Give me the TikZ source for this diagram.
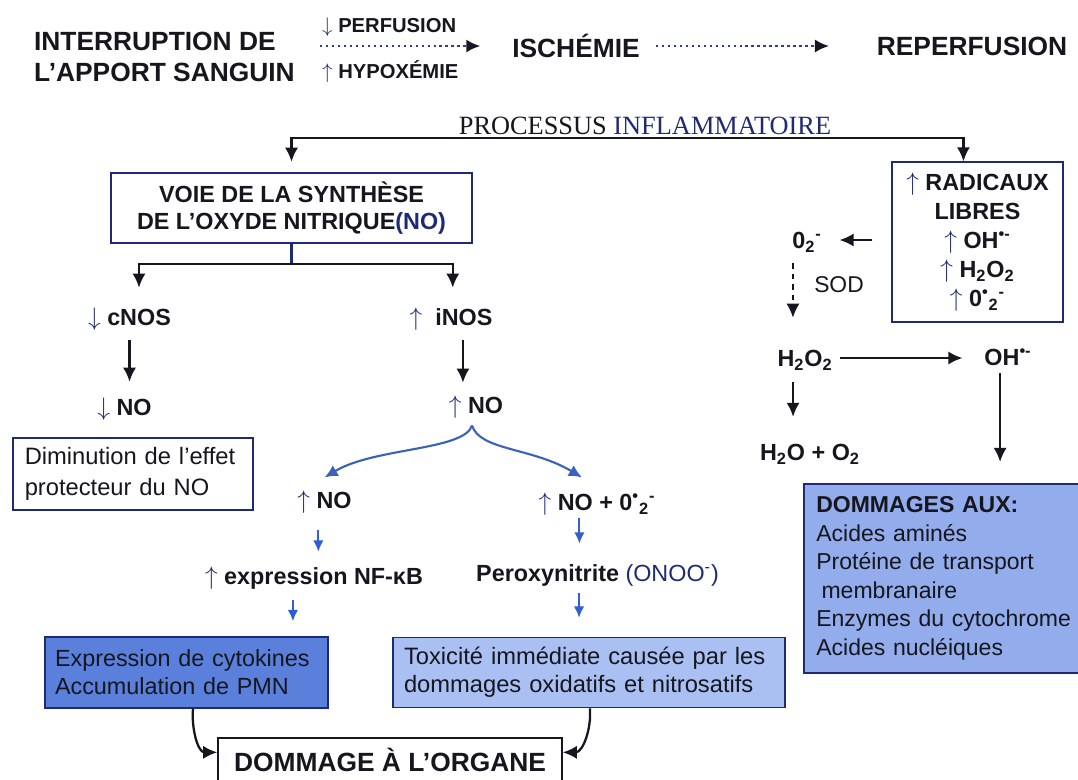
\documentclass[tikz,border=0pt]{standalone}
\usepackage{fontspec}
\setmainfont{Liberation Sans}
\newfontfamily\procfont{Liberation Serif}
\usetikzlibrary{calc,arrows.meta}
\definecolor{ink}{HTML}{16161E}
\definecolor{navy}{HTML}{1F2A74}
\definecolor{curveblue}{HTML}{3B62BA}
\definecolor{tipblue}{HTML}{2F5FD2}
\definecolor{dotblue}{HTML}{2A3AA8}
\definecolor{cytoblue}{HTML}{5A80DC}
\definecolor{toxblue}{HTML}{AAC0F3}
\definecolor{dmgblue}{HTML}{93ACEC}
\newcommand\uparr{\textcolor{navy}{$\uparrow$}}
\newcommand\dnarr{\textcolor{navy}{$\downarrow$}}

\begin{document}
\begin{tikzpicture}[x=0.02cm,y=-0.02cm,
    title node/.style={font=\fontsize{15}{17.6}\selectfont\bfseries,text=ink,inner sep=1pt},
    small node/.style={font=\fontsize{11.5}{13}\selectfont\bfseries,text=ink,inner sep=1pt},
    chem node/.style={font=\fontsize{13.3}{16}\selectfont\bfseries,text=ink,inner sep=1pt,text height=9.6pt,text depth=0pt},
    line box/.style={draw=navy,line width=0.8pt,fill=white,text=ink,align=center,font=\fontsize{13.3}{15.4}\selectfont\bfseries},
    left box/.style={draw=navy,line width=0.9pt,text=ink,align=left,font=\fontsize{13.5}{16}\selectfont},
    dark arrow/.style={-{Latex[length=8pt,width=7.5pt]},line width=1.3pt,draw=ink},
    blue arrow/.style={-{Latex[length=6.5pt,width=6pt]},line width=1.1pt,draw=tipblue},
    curve arrow/.style={-{Latex[length=7.5pt,width=7pt]},line width=1.2pt,draw=curveblue},
    dot arrow/.style={-{Latex[length=8pt,width=7.5pt,color=ink]},dotted,line width=1.4pt,draw=dotblue}]

  \useasboundingbox (0,0) rectangle (1078,779);

  % ligne du haut
  \node[title node,align=left,anchor=west] (interrupt) at (32,57) {INTERRUPTION DE\\L’APPORT SANGUIN};
  \node[small node,anchor=west] (perf) at (320,27) {\dnarr\ PERFUSION};
  \node[small node,anchor=west] (hypo) at (320,72) {\uparr\ HYPOXÉMIE};
  \node[title node] (isch) at (576,46) {ISCHÉMIE};
  \node[title node] (repf) at (972,46) {REPERFUSION};
  \draw[dot arrow,shorten >=17pt] (isch.west -| perf.west) -- (isch.west);
  \draw[dot arrow,shorten <=8pt,shorten >=26pt] (isch) -- (repf);

  % processus inflammatoire
  \node[anchor=base,inner sep=2pt,font=\procfont\fontsize{15}{18}\selectfont,text=ink] (proc) at (645,134) {PROCESSUS \textcolor{navy}{INFLAMMATOIRE}};
  \node[line box,minimum width=7.22cm,minimum height=1.4cm] (voie) at (291.5,208) {VOIE DE LA SYNTHÈSE\\DE L’OXYDE NITRIQUE\textcolor{navy}{(NO)}};
  \node[line box,minimum width=3.42cm,minimum height=3.2cm,font=\fontsize{13.3}{16.5}\selectfont\bfseries] (radic) at (977.5,242)
    {\uparr\ RADICAUX\\LIBRES\\\uparr\ OH\textsuperscript{•-}\\\uparr\ H\textsubscript{2}O\textsubscript{2}\\\uparr\ 0\textsuperscript{•}\textsubscript{2}\textsuperscript{-}};
  \draw[dark arrow,shorten >=6pt] (proc.south) -| (voie.north);
  \draw[dark arrow] (proc.south) -| ([xshift=-8pt]radic.north);

  % voie du NO
  \node[chem node] (cnos) at (129.5,317) {\dnarr\ cNOS};
  \node[chem node] (inos) at (451,317) {\uparr\ \ iNOS};
  \node[chem node] (no1) at (124.5,407) {\dnarr\ NO};
  \node[chem node] (no2) at (476,405) {\uparr\ NO};
  \coordinate (vsplit) at ($(voie.south)+(0,20)$);
  \draw[line width=1.3pt,draw=navy] (voie.south) -- (vsplit);
  \draw[dark arrow,shorten >=10.7pt] (vsplit) -| ([xshift=5.4pt]cnos.north);
  \draw[dark arrow,shorten >=10.7pt] (vsplit) -| ([xshift=1pt]inos.north);
  \draw[dark arrow,shorten <=7.3pt,shorten >=8.4pt] (cnos.south) -- (cnos.south |- no1.north);
  \draw[dark arrow,shorten <=7.3pt,shorten >=6.7pt] ([xshift=6.8pt]inos.south) -- ([xshift=6.8pt]inos.south |- no2.north);

  \node[left box,fill=white,anchor=west,text width=4.32cm,inner xsep=0.24cm,minimum height=1.44cm,font=\fontsize{13.5}{17.5}\selectfont] (dimin) at (12,474)
    {Diminution de l’effet\\protecteur du NO};

  % fourche
  \node[chem node] (no3) at (324.5,500) {\uparr\ NO};
  \node[chem node] (no4) at (597,502) {\uparr\ NO + 0\textsuperscript{•}\textsubscript{2}\textsuperscript{-}};
  \coordinate (fork) at ($(no2.south)+(-4,10)$);
  \coordinate (tipl) at ($(no3.north)+(0,-12)$);
  \coordinate (tipr) at ($(no4.north)+(-15,-14)$);
  \draw[curve arrow] (fork) .. controls ($(fork)+(-8,25)$) and ($(tipl)+(50,-30)$) .. (tipl);
  \draw[curve arrow] (fork) .. controls ($(fork)+(8,25)$) and ($(tipr)+(-50,-30)$) .. (tipr);

  \node[chem node] (nfkb) at (314,576) {\uparr\ expression NF-κB};
  \node[chem node] (perox) at (597.5,573) {Peroxynitrite \textcolor{navy}{\mdseries(ONOO\textsuperscript{-})}};
  \draw[blue arrow,shorten <=11.2pt,shorten >=7.8pt] ([xshift=-3.5pt]no3.south) -- ([xshift=-3.5pt]no3.south |- nfkb.north);
  \draw[blue arrow,shorten <=3.3pt,shorten >=10.7pt] ([xshift=-10pt]no4.south) -- ([xshift=-10pt]no4.south |- perox.north);

  \node[left box,fill=cytoblue,text width=5.26cm,inner xsep=0.2cm,minimum height=1.42cm,font=\fontsize{13.3}{15.9}\selectfont] (expr) at (186.5,672.5)
    {Expression de cytokines\\Accumulation de PMN};
  \node[left box,fill=toxblue,text width=7.4cm,inner xsep=0.22cm,minimum height=1.4cm,font=\fontsize{13.5}{15.9}\selectfont] (tox) at (589,672.5)
    {Toxicité immédiate causée par les\\dommages oxidatifs et nitrosatifs};
  \draw[blue arrow,shorten <=7.8pt,shorten >=8.5pt] ([xshift=-12pt]nfkb.south) -- ([xshift=-12pt]nfkb.south |- expr.north);
  \draw[blue arrow,shorten <=5.6pt,shorten >=10.8pt] ([xshift=-10.5pt]perox.south) -- ([xshift=-10.5pt]perox.south |- tox.north);

  \node[draw=ink,fill=white,line width=0.9pt,font=\fontsize{15}{18}\selectfont\bfseries,text=ink,minimum width=6.88cm,
        text height=13pt,text depth=12pt,inner ysep=6pt,anchor=base] (organe) at (390,771.5) {DOMMAGE À L’ORGANE};
  \draw[dark arrow] ([xshift=3.7pt]expr.south) to[out=-95,in=180] ($(organe.north west)+(0,15)$);
  \draw[dark arrow] ([xshift=0.5pt]tox.south) to[out=-85,in=0] ($(organe.north east)+(0,15)$);

  % radicaux libres
  \node[chem node] (otwo) at (807,240) {0\textsubscript{2}\textsuperscript{-}};
  \node[font=\fontsize{13}{15}\selectfont,text=ink,inner sep=1pt] (sod) at (839,285) {SOD};
  \node[chem node] (h2o2) at (805,358) {H\textsubscript{2}O\textsubscript{2}};
  \node[chem node] (ohrad) at (1008,357) {OH\textsuperscript{•-}};
  \node[chem node] (water) at (810,452) {H\textsubscript{2}O + O\textsubscript{2}};
  \draw[dark arrow,shorten <=10.8pt,shorten >=9pt] (radic.west |- otwo.east) -- (otwo.east);
  \draw[dark arrow,dashed,shorten <=7.3pt,shorten >=16.9pt] ([xshift=-8pt]otwo.south) -- ([xshift=-8pt]otwo.south |- h2o2.north);
  \draw[dark arrow,shorten <=3pt,shorten >=11.3pt] (h2o2.east) -- (h2o2.east -| ohrad.west);
  \draw[dark arrow,shorten <=7.8pt,shorten >=14pt] ([xshift=-6.8pt]h2o2.south) -- ([xshift=-6.8pt]h2o2.south |- water.north);

  \node[left box,fill=dmgblue,anchor=north west,text width=5.5cm,inner xsep=0.25cm,minimum height=3.78cm,font=\fontsize{13.1}{16.2}\selectfont] (dmg) at (803,483)
    {\textbf{DOMMAGES AUX:}\\Acides aminés\\Protéine de transport\\\hspace*{3pt}membranaire\\Enzymes du cytochrome\\Acides nucléiques};
  \draw[dark arrow,shorten <=3.3pt,shorten >=12pt] ([xshift=-4.5pt]ohrad.south) -- ([xshift=-4.5pt]ohrad.south |- dmg.north);

\end{tikzpicture}
\end{document}
